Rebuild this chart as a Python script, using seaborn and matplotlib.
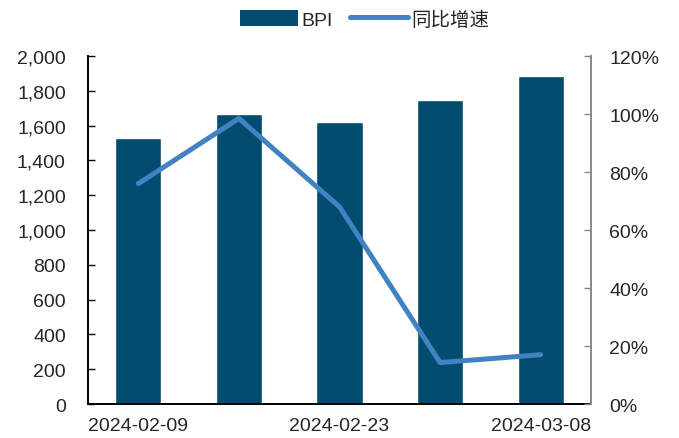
import matplotlib
matplotlib.use("Agg")
import matplotlib.pyplot as plt
import matplotlib.ticker as mticker
from matplotlib.patches import Patch
from matplotlib.lines import Line2D
import pandas as pd
import seaborn as sns

dates = ["2024-02-09", "2024-02-16", "2024-02-23", "2024-03-01", "2024-03-08"]
bpi = [1528, 1665, 1620, 1747, 1885]
yoy = [76.0, 98.5, 68.0, 14.3, 17.0]
tick_labels = ["2024-02-09", "", "2024-02-23", "", "2024-03-08"]

bar_color = "#024c70"
line_color = "#4282c2"

sns.set_theme(style="white")
plt.rcParams["font.family"] = ["Liberation Sans", "Noto Sans CJK SC", "DejaVu Sans"]

df = pd.DataFrame({"date": dates, "bpi": bpi, "yoy": yoy})

fig = plt.figure(figsize=(6.79, 4.39), dpi=100)
ax = fig.add_axes([0.1296, 0.0774, 0.7408, 0.7926])

sns.barplot(data=df, x="date", y="bpi", color=bar_color, width=0.46,
            saturation=1, ax=ax)
ax.set_ylim(0, 2000)
ax.set_xlim(-0.5, 4.5)
ax.yaxis.set_major_locator(mticker.MultipleLocator(200))
ax.yaxis.set_major_formatter(mticker.FuncFormatter(lambda v, p: f"{v:,.0f}"))
ax.set_xticks(range(len(dates)))
ax.set_xticklabels(tick_labels)
ax.set_xticks([0.5, 1.5, 2.5, 3.5, 4.5], minor=True)
ax.tick_params(axis="x", which="major", length=0, labelsize=14, pad=9)
ax.tick_params(axis="x", which="minor", direction="in", length=5, width=1, color="black")
ax.tick_params(axis="y", direction="in", length=5, width=1, color="black",
               labelsize=14, pad=16, left=True)
ax.set_xlabel("")
ax.set_ylabel("")
for s in ["top", "right"]:
    ax.spines[s].set_visible(False)
for s in ["left", "bottom"]:
    ax.spines[s].set_color("black")
    ax.spines[s].set_linewidth(1.4)

ax2 = ax.twinx()
sns.lineplot(data=df, x="date", y="yoy", color=line_color, linewidth=3.6,
             sort=False, ax=ax2)
ax2.set_ylim(0, 120)
ax2.set_xlim(-0.5, 4.5)
ax2.yaxis.set_major_locator(mticker.MultipleLocator(20))
ax2.yaxis.set_major_formatter(mticker.FuncFormatter(lambda v, p: f"{v:.0f}%"))
ax2.tick_params(axis="y", direction="in", length=5, width=1, color="#888888",
                labelsize=14, pad=13, right=True)
ax2.set_ylabel("")
for s in ["top", "left", "bottom"]:
    ax2.spines[s].set_visible(False)
ax2.spines["right"].set_color("#888888")
ax2.spines["right"].set_linewidth(1.4)

handles = [Patch(facecolor=bar_color, edgecolor="none", label="BPI"),
           Line2D([0], [0], color=line_color, linewidth=3.6, label="同比增速")]
fig.legend(handles=handles, loc="center", bbox_to_anchor=(0.537, 0.954), ncol=2,
           frameon=False, fontsize=14, handlelength=3.0, handleheight=0.9,
           columnspacing=0.9, handletextpad=0.15)

fig.savefig("out.png", dpi=100)
